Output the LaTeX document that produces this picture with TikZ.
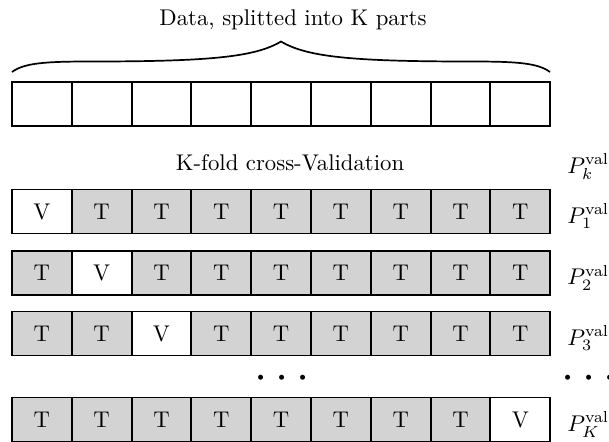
\documentclass[tikz,border=0pt]{standalone}
\definecolor{cellgray}{RGB}{211,211,211}
\begin{document}
\begin{tikzpicture}[x=0.44pt,y=-0.44pt,
  cell/.style={draw, line width=0.8pt, minimum width=26.3pt, minimum height=19.4pt,
    inner sep=0pt, outer sep=0pt},
  caption/.style={anchor=base, inner sep=0pt},
  plabel/.style={anchor=base west, inner sep=0pt},
  bracepath/.style={line width=0.75pt}]
  \useasboundingbox (0,0) rectangle (609,441);

  % the data, split into nine parts
  \foreach \i in {1,...,9}
    \node[cell, fill=white] (d\i) at ({12+59.8*(\i-0.5)},104) {};

  % curly brace over the whole data row
  \coordinate (bl) at (12,72);
  \coordinate (br) at (550,72);
  \coordinate (tip) at (281,41.5);
  \draw[bracepath] (bl) .. controls (24,63) and (45,61.5) .. (90,61.5)
    .. controls (210,61.5) and (255,57) .. (tip)
    .. controls (307,57) and (352,61.5) .. (472,61.5)
    .. controls (517,61.5) and (538,63) .. (br);
  \node[caption] (title) at (293,25) {Data, splitted into K parts};

  % one row per fold: V marks the validation part, T the training parts
  \node[caption] (kfold) at (290,170) {K-fold cross-Validation};
  \node[plabel] (pk) at (567,173) {$P_k^{\mathrm{val}}$};
  \foreach \r/\y/\v in {1/211.5/1, 2/273/2, 3/333.5/3, K/419.5/9} {
    \foreach \i in {1,...,9} {
      \ifnum\i=\v \def\lbl{V}\def\fc{white}\else\def\lbl{T}\def\fc{cellgray}\fi
      \node[cell, fill=\fc] (r\r c\i) at ({12+59.8*(\i-0.5)},\y) {\lbl};
    }
    \node[plabel] (p\r) at (567,\y+11.5) {$P_\r^{\mathrm{val}}$};
  }

  % rows left out
  \node[caption] (dotsmid) at (282,389) {\huge$\cdots$};
  \node[caption] (dotsright) at (589,389) {\huge$\cdots$};
\end{tikzpicture}
\end{document}
